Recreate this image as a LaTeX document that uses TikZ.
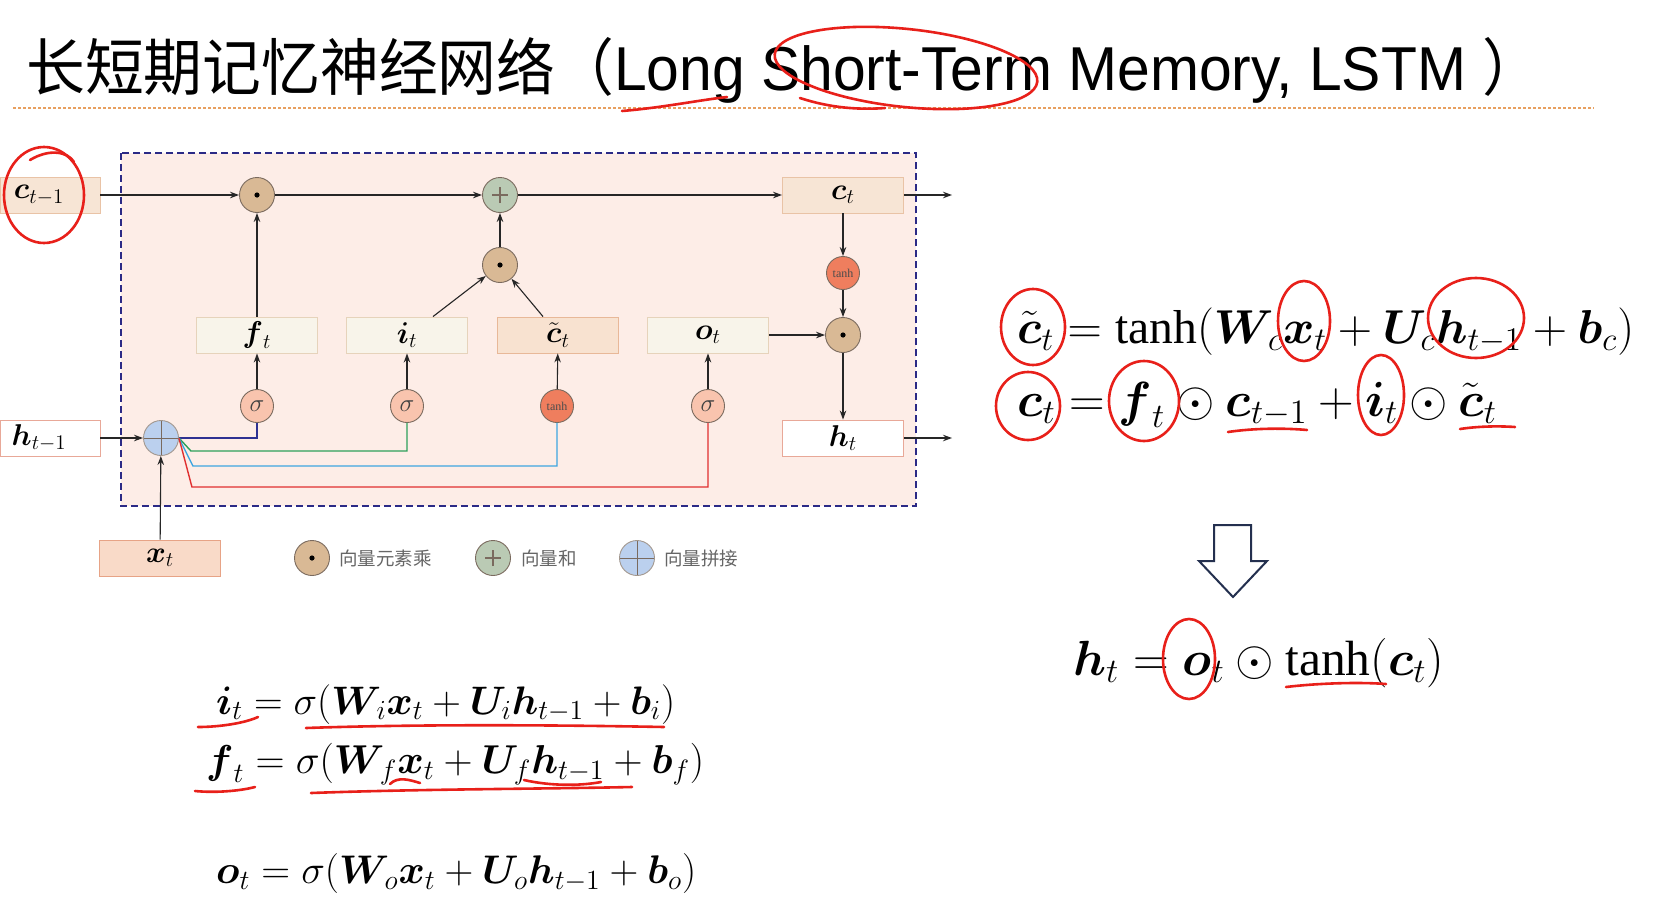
\documentclass[tikz,border=0pt]{standalone}
\usepackage{amsmath}
\usepackage{graphicx}
\usepackage{fontspec}
\setmainfont{Liberation Serif}
\newfontfamily\cjk{Noto Sans CJK SC}
\newfontfamily\titlefont{Liberation Sans}
\usetikzlibrary{arrows.meta,calc}
\newcommand{\sclmath}[2]{\scalebox{#1}{\fontsize{20.74}{24}\selectfont$#2$}}
\newcommand{\eqfit}[2]{\resizebox{#1}{!}{\fontsize{20.74}{24}\selectfont$#2$}}
\definecolor{bgpink}{HTML}{FDEDE7}
\definecolor{navy}{HTML}{2B2A86}
\definecolor{cbfill}{HTML}{F7E5D5}
\definecolor{cbdraw}{HTML}{E9C3A6}
\definecolor{gbfill}{HTML}{F8F4EA}
\definecolor{gbdraw}{HTML}{E6D3BB}
\definecolor{ctfill}{HTML}{F8E2D0}
\definecolor{ctdraw}{HTML}{E8B898}
\definecolor{hbdraw}{HTML}{E8A898}
\definecolor{xbfill}{HTML}{F9DAC8}
\definecolor{xbdraw}{HTML}{E7A386}
\definecolor{multfill}{HTML}{D9B995}
\definecolor{plusfill}{HTML}{BACAB4}
\definecolor{catfill}{HTML}{BBD0EE}
\definecolor{sigfill}{HTML}{F9C4AE}
\definecolor{tanhfill}{HTML}{EF7E5E}
\definecolor{cdraw}{HTML}{7A6A5E}
\definecolor{wdblue}{HTML}{2E3192}
\definecolor{wgreen}{HTML}{2DA05A}
\definecolor{wblue}{HTML}{3DA5E0}
\definecolor{wred}{HTML}{E03030}
\definecolor{orangeline}{HTML}{E8A060}
\definecolor{annred}{HTML}{E8201A}
\definecolor{arrnavy}{HTML}{24304F}
\tikzset{
  x=1pt,y=-1pt,
  gbox/.style={rectangle, minimum width=121pt, minimum height=36pt, inner sep=0pt, line width=0.9pt},
  cbox/.style={gbox, fill=cbfill, draw=cbdraw},
  gatebox/.style={gbox, fill=gbfill, draw=gbdraw},
  ctbox/.style={gbox, fill=ctfill, draw=ctdraw},
  hbox/.style={gbox, fill=white, draw=hbdraw},
  xbox/.style={gbox, fill=xbfill, draw=xbdraw},
  opc/.style={circle, minimum size=35pt, inner sep=0pt, draw=cdraw, line width=0.9pt},
  multc/.style={opc, fill=multfill, path picture={\fill[black] (path picture bounding box.center) circle (2.6pt);}},
  plusc/.style={opc, fill=plusfill, path picture={\draw[line width=1.3pt] ([xshift=-8pt]path picture bounding box.center) -- ([xshift=8pt]path picture bounding box.center) ([yshift=-8pt]path picture bounding box.center) -- ([yshift=8pt]path picture bounding box.center);}},
  catc/.style={opc, fill=catfill, draw=cdraw!70, path picture={\draw[cdraw,line width=0.9pt] (path picture bounding box.north) -- (path picture bounding box.south) (path picture bounding box.west) -- (path picture bounding box.east);}},
  sigc/.style={circle, minimum size=33pt, inner sep=0pt, draw=cdraw, line width=0.9pt, fill=sigfill, text=black!75},
  tanhc/.style={circle, minimum size=33pt, inner sep=0pt, draw=cdraw, line width=0.9pt, fill=tanhfill, font=\fontsize{12}{13}\selectfont, text=black!70},
  arr/.style={-{Stealth[length=9pt,width=6.5pt]}, line width=1.1pt, black!85},
  wire/.style={line width=1.4pt},
  legtext/.style={anchor=west, inner sep=0pt, font=\cjk\fontsize{18.5}{20}\selectfont, text=black!60},
  eq/.style={anchor=base west, inner sep=0pt},
  ann/.style={draw=annred, line width=2.6pt, line cap=round},
}
\begin{document}
\begin{tikzpicture}
\useasboundingbox[fill=white] (0,0) rectangle (1653,910);
% title
\node[eq] (title) at (26,90) {\resizebox{1515pt}{\height}{\titlefont\fontsize{62}{70}\selectfont{\cjk 长短期记忆神经网络（}Long Short-Term Memory, LSTM {\cjk ）}}};
\draw[orangeline, line width=1.3pt, dash pattern=on 3pt off 2pt] (13,108) -- (1594,108);
% frame
\draw[navy, line width=2.2pt, dash pattern=on 7pt off 4pt, fill=bgpink] (121,153) rectangle (916,506);
% boxes
\node[cbox, minimum width=100pt] (ctm1) at (50,195) {\hspace*{-22pt}\sclmath{1.45}{\boldsymbol{c}_{t-1}}};
\node[hbox, minimum width=100pt] (htm1) at (50,438) {\hspace*{-22pt}\sclmath{1.45}{\boldsymbol{h}_{t-1}}};
\node[xbox] (xt) at (160,558) {\sclmath{1.45}{\boldsymbol{x}_{t}}};
\node[gatebox] (ft) at (257,335) {\sclmath{1.45}{\boldsymbol{f}_{t}}};
\node[gatebox] (it) at (407,335) {\sclmath{1.45}{\boldsymbol{i}_{t}}};
\node[ctbox] (ctl) at (558,335) {\sclmath{1.45}{\tilde{\boldsymbol{c}}_{t}}};
\node[gatebox] (ot) at (708,335) {\sclmath{1.45}{\boldsymbol{o}_{t}}};
\node[cbox] (ct) at (843,195) {\sclmath{1.45}{\boldsymbol{c}_{t}}};
\node[hbox] (ht) at (843,438) {\sclmath{1.45}{\boldsymbol{h}_{t}}};
% operators
\node[multc] (m1) at (257,195) {};
\node[plusc] (pl) at (500,195) {};
\node[multc] (m2) at (500,265) {};
\node[tanhc] (th2) at (843,273) {tanh};
\node[multc] (m3) at (843,335) {};
\node[sigc] (sf) at (257,406) {\sclmath{1.2}{\sigma}};
\node[sigc] (si) at (407,406) {\sclmath{1.2}{\sigma}};
\node[tanhc] (th1) at (557,406) {tanh};
\node[sigc] (so) at (708,406) {\sclmath{1.2}{\sigma}};
\node[catc] (cat) at (161,438) {};
% coordinates for outputs
\coordinate (cout) at (952,195);
\coordinate (hout) at (952,438);
% wires
\draw[wire, wdblue] (cat.east) -- (sf.south |- cat.east) -- (sf.south);
\draw[wire, wgreen] (cat.east) -- ++(12,13) -| (si.south);
\draw[wire, wblue] (cat.east) -- ++(14,28) -| (th1.south);
\draw[wire, wred] (cat.east) -- ++(13,49) -| (so.south);
% arrows
\draw[arr] (ctm1) -- (m1);
\draw[arr] (m1) -- (pl);
\draw[arr] (pl) -- (ct);
\draw[arr] (ct.east) -- (cout);
\draw[arr] (ft) -- (m1);
\draw[arr] ([xshift=26pt]it.north) -- (m2);
\draw[arr] ([xshift=-15pt]ctl.north) -- (m2);
\draw[arr] (m2) -- (pl);
\draw[arr] (ct) -- (th2);
\draw[arr] (th2) -- (m3);
\draw[arr] (ot) -- (m3);
\draw[arr] (m3) -- (ht);
\draw[arr] (ht.east) -- (hout);
\draw[arr] (htm1) -- (cat);
\draw[arr] (xt) -- (cat);
\draw[arr] (sf) -- (ft);
\draw[arr] (si) -- (it);
\draw[arr] (th1) -- (ctl);
\draw[arr] (so) -- (ot);
% legend
\node[multc] (lm) at (312,558) {};
\node[legtext] (lmt) at (339,558) {向量元素乘};
\node[plusc] (lp) at (493,558) {};
\node[legtext] (lpt) at (521,558) {向量和};
\node[catc] (lc) at (637,558) {};
\node[legtext] (lct) at (664,558) {向量拼接};
% equations
\node[eq] (e1) at (1017,343) {\eqfit{617pt}{\tilde{\boldsymbol{c}}_t = \tanh(\boldsymbol{W}_{\!c}\boldsymbol{x}_t + \boldsymbol{U}_{\!c}\boldsymbol{h}_{t-1} + \boldsymbol{b}_c)}};
\node[eq] (e2) at (1017,416) {\eqfit{480pt}{\boldsymbol{c}_t = \boldsymbol{f}_t \odot \boldsymbol{c}_{t-1} + \boldsymbol{i}_t \odot \tilde{\boldsymbol{c}}_t}};
\draw[arrnavy, line width=2pt, fill=white] (1214,525) -- (1251,525) -- (1251,561) -- (1267,561) -- (1233,597) -- (1199,561) -- (1214,561) -- cycle;
\node[eq] (e3) at (1073,675) {\eqfit{371pt}{\boldsymbol{h}_t = \boldsymbol{o}_t \odot \tanh(\boldsymbol{c}_t)}};
\node[eq] (e4) at (216,714) {\eqfit{459pt}{\boldsymbol{i}_t = \sigma(\boldsymbol{W}_{\!i}\boldsymbol{x}_t + \boldsymbol{U}_{\!i}\boldsymbol{h}_{t-1} + \boldsymbol{b}_i)}};
\node[eq] (e5) at (206,773) {\eqfit{498pt}{\boldsymbol{f}_t = \sigma(\boldsymbol{W}_{\!f}\boldsymbol{x}_t + \boldsymbol{U}_{\!f}\boldsymbol{h}_{t-1} + \boldsymbol{b}_f)}};
\node[eq] (e6) at (216,883) {\eqfit{480pt}{\boldsymbol{o}_t = \sigma(\boldsymbol{W}_{\!o}\boldsymbol{x}_t + \boldsymbol{U}_{\!o}\boldsymbol{h}_{t-1} + \boldsymbol{b}_o)}};
% red annotations
\draw[ann] (44,195) ellipse [x radius=40, y radius=48];
\draw[ann] (30,160) .. controls (50,148) and (68,152) .. (74,162);
\draw[ann] (622,111) .. controls (660,108) and (700,100) .. (727,97);
\draw[ann, rotate around={-6:(906,68)}] (906,68) ellipse [x radius=132, y radius=39];
\draw[ann] (800,98) .. controls (830,108) and (860,110) .. (885,108);
\draw[ann] (1033,327) ellipse [x radius=32, y radius=38];
\draw[ann] (1304,321) ellipse [x radius=26, y radius=40];
\draw[ann] (1476,318) ellipse [x radius=48, y radius=40];
\draw[ann] (1028,406) ellipse [x radius=32, y radius=34];
\draw[ann] (1144,401) ellipse [x radius=35, y radius=40];
\draw[ann] (1381,395) ellipse [x radius=23, y radius=40];
\draw[ann] (1228,432) .. controls (1255,428) and (1285,428) .. (1307,430);
\draw[ann] (1460,429) .. controls (1480,426) and (1500,426) .. (1515,427);
\draw[ann] (1189,659) ellipse [x radius=26, y radius=40];
\draw[ann] (1286,687) .. controls (1320,683) and (1360,682) .. (1386,684);
\draw[ann] (198,727) .. controls (220,727) and (245,723) .. (258,717);
\draw[ann] (306,728) .. controls (420,724) and (560,725) .. (664,727);
\draw[ann] (195,791) .. controls (215,793) and (240,791) .. (255,787);
\draw[ann] (311,793) .. controls (420,789) and (540,789) .. (632,787);
\draw[ann] (390,784) .. controls (398,776) and (410,780) .. (420,783);
\draw[ann] (524,780) .. controls (550,786) and (580,786) .. (601,782);
\end{tikzpicture}
\end{document}
